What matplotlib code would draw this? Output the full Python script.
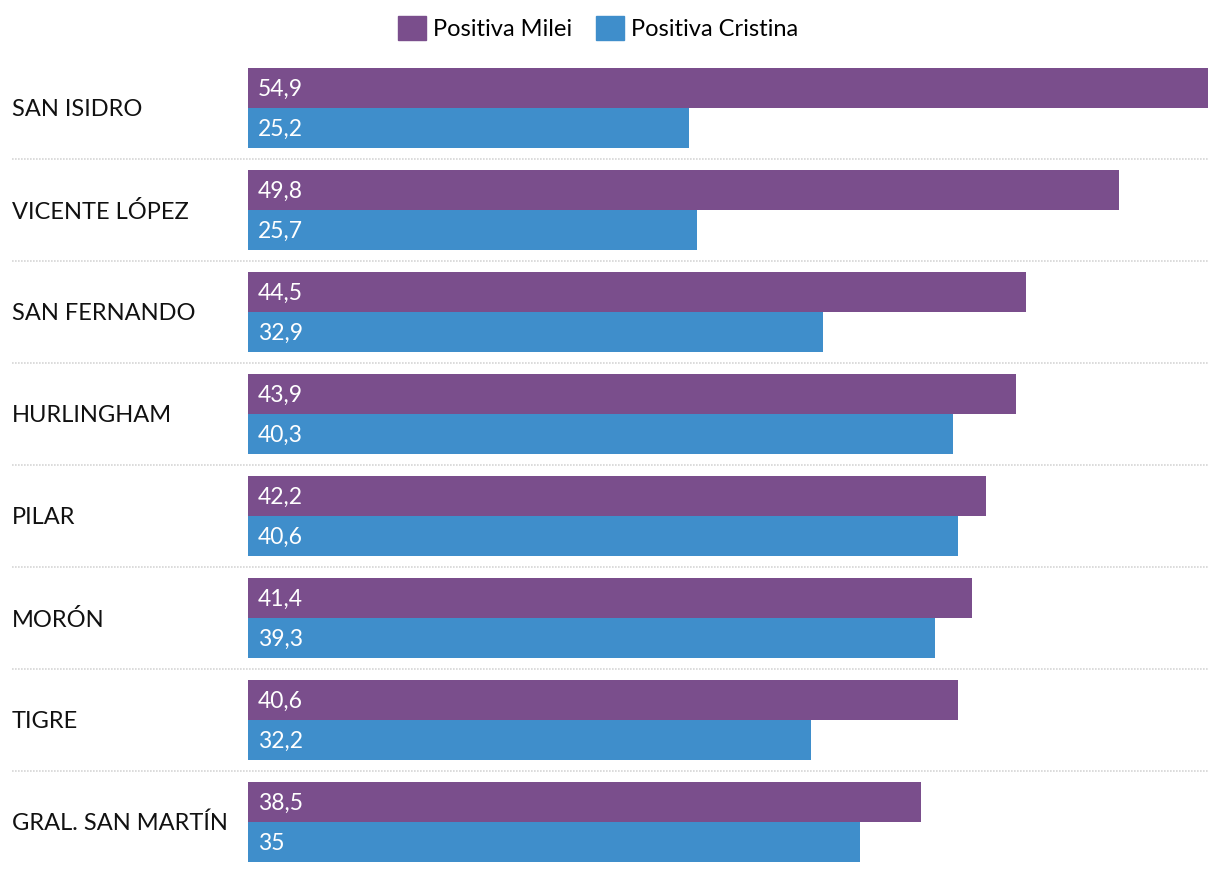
import matplotlib.pyplot as plt
from matplotlib.patches import Patch

plt.rcParams['font.family'] = ['Lato', 'DejaVu Sans']

municipios = ["SAN ISIDRO", "VICENTE LÓPEZ", "SAN FERNANDO", "HURLINGHAM",
              "PILAR", "MORÓN", "TIGRE", "GRAL. SAN MARTÍN"]
milei = [54.9, 49.8, 44.5, 43.9, 42.2, 41.4, 40.6, 38.5]
cristina = [25.2, 25.7, 32.9, 40.3, 40.6, 39.3, 32.2, 35]
series_names = ["Positiva Milei", "Positiva Cristina"]

purple = "#7a4e8c"
blue = "#3f8ecb"

W, H = 1220, 874
fig = plt.figure(figsize=(W / 100, H / 100), dpi=100)
# axes from x=248px to 1208px, y from 57px to 873px
ax = fig.add_axes([248 / W, 1 - 873 / H, 960 / W, 816 / H])

bh = 40 / 102
ys = list(range(len(municipios)))


def fmt(v):
    s = ("%.1f" % v).rstrip("0").rstrip(".")
    return s.replace(".", ",")


ax.barh([y - bh / 2 for y in ys], milei, height=bh, color=purple)
ax.barh([y + bh / 2 for y in ys], cristina, height=bh, color=blue)

for y, m, c in zip(ys, milei, cristina):
    ax.annotate(fmt(m), (0, y - bh / 2), xytext=(7, -1), textcoords="offset points",
                ha="left", va="center", color="white", fontsize=16.5)
    ax.annotate(fmt(c), (0, y + bh / 2), xytext=(7, -1), textcoords="offset points",
                ha="left", va="center", color="white", fontsize=16.5)

trans = ax.get_yaxis_transform()
left_edge = (12 - 248) / 960
for y, name in zip(ys, municipios):
    ax.annotate(name, (left_edge, y), xycoords=trans, xytext=(0, -1.2),
                textcoords="offset points", ha="left", va="center",
                fontsize=17, color="#111111")

for y in ys[:-1]:
    ax.plot([left_edge, 1], [y + 0.5, y + 0.5], transform=trans, clip_on=False,
            color="#d6d6d6", lw=1.2, linestyle=(0, (1, 0.8)))

ax.set_xlim(0, max(milei))
ax.set_ylim(len(municipios) - 0.5, -0.5)
ax.axis("off")

handles = [Patch(color=purple), Patch(color=blue)]
fig.legend(handles, series_names, loc="center left",
           bbox_to_anchor=(398 / W, 1 - 28 / H), ncol=2, frameon=False,
           fontsize=17, handlelength=1.18, handleheight=1.18,
           handletextpad=0.3, columnspacing=1.0, borderpad=0, borderaxespad=0)

fig.savefig("out.png", dpi=100, facecolor="white")
